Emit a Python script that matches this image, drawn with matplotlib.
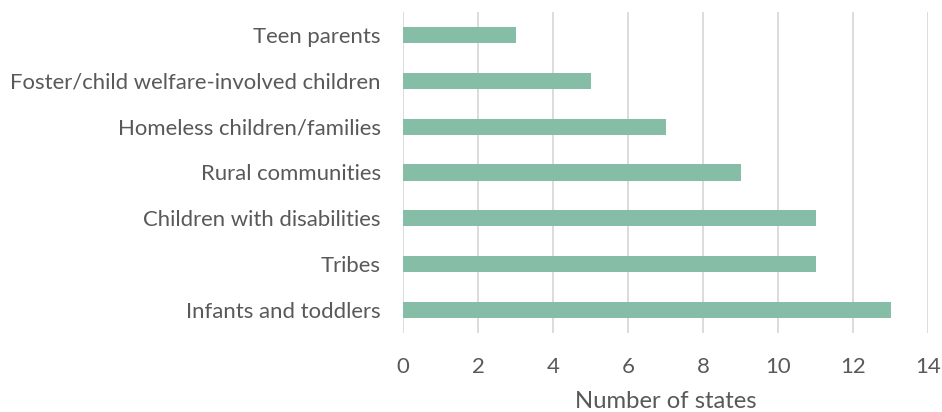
import matplotlib
matplotlib.use("Agg")
import matplotlib.pyplot as plt

categories = ["Teen parents", "Foster/child welfare-involved children",
              "Homeless children/families", "Rural communities",
              "Children with disabilities", "Tribes", "Infants and toddlers"]
values = [3, 5, 7, 9, 11, 11, 13]
xticks = [0, 2, 4, 6, 8, 10, 12, 14]

plt.rcParams['font.family'] = ['Lato', 'DejaVu Sans']
fig = plt.figure(figsize=(9.42, 4.12), dpi=100)
ax = fig.add_axes([403/942, 1-333/412, 525/942, 321/412])

y = list(range(len(categories)))
ax.barh(y, values, height=0.35, color="#86BDA6", zorder=3)
ax.set_ylim(len(categories)-0.5, -0.5)
ax.set_yticks(y)
ax.set_yticklabels(categories, fontsize=15.9, color="#595959")
ax.set_xlim(0, 14)
ax.set_xticks(xticks)
ax.set_xticklabels([str(t) for t in xticks], fontsize=15.9, color="#595959")
ax.grid(axis='x', color="#D9D9D9", linewidth=1.3, zorder=0)
for s in ax.spines.values():
    s.set_visible(False)
ax.tick_params(axis='both', length=0)
ax.tick_params(axis='x', pad=17.5)
ax.tick_params(axis='y', pad=16)
ax.set_xlabel("Number of states", fontsize=17.2, color="#595959", labelpad=9.5)

fig.savefig("out.png", dpi=100)
